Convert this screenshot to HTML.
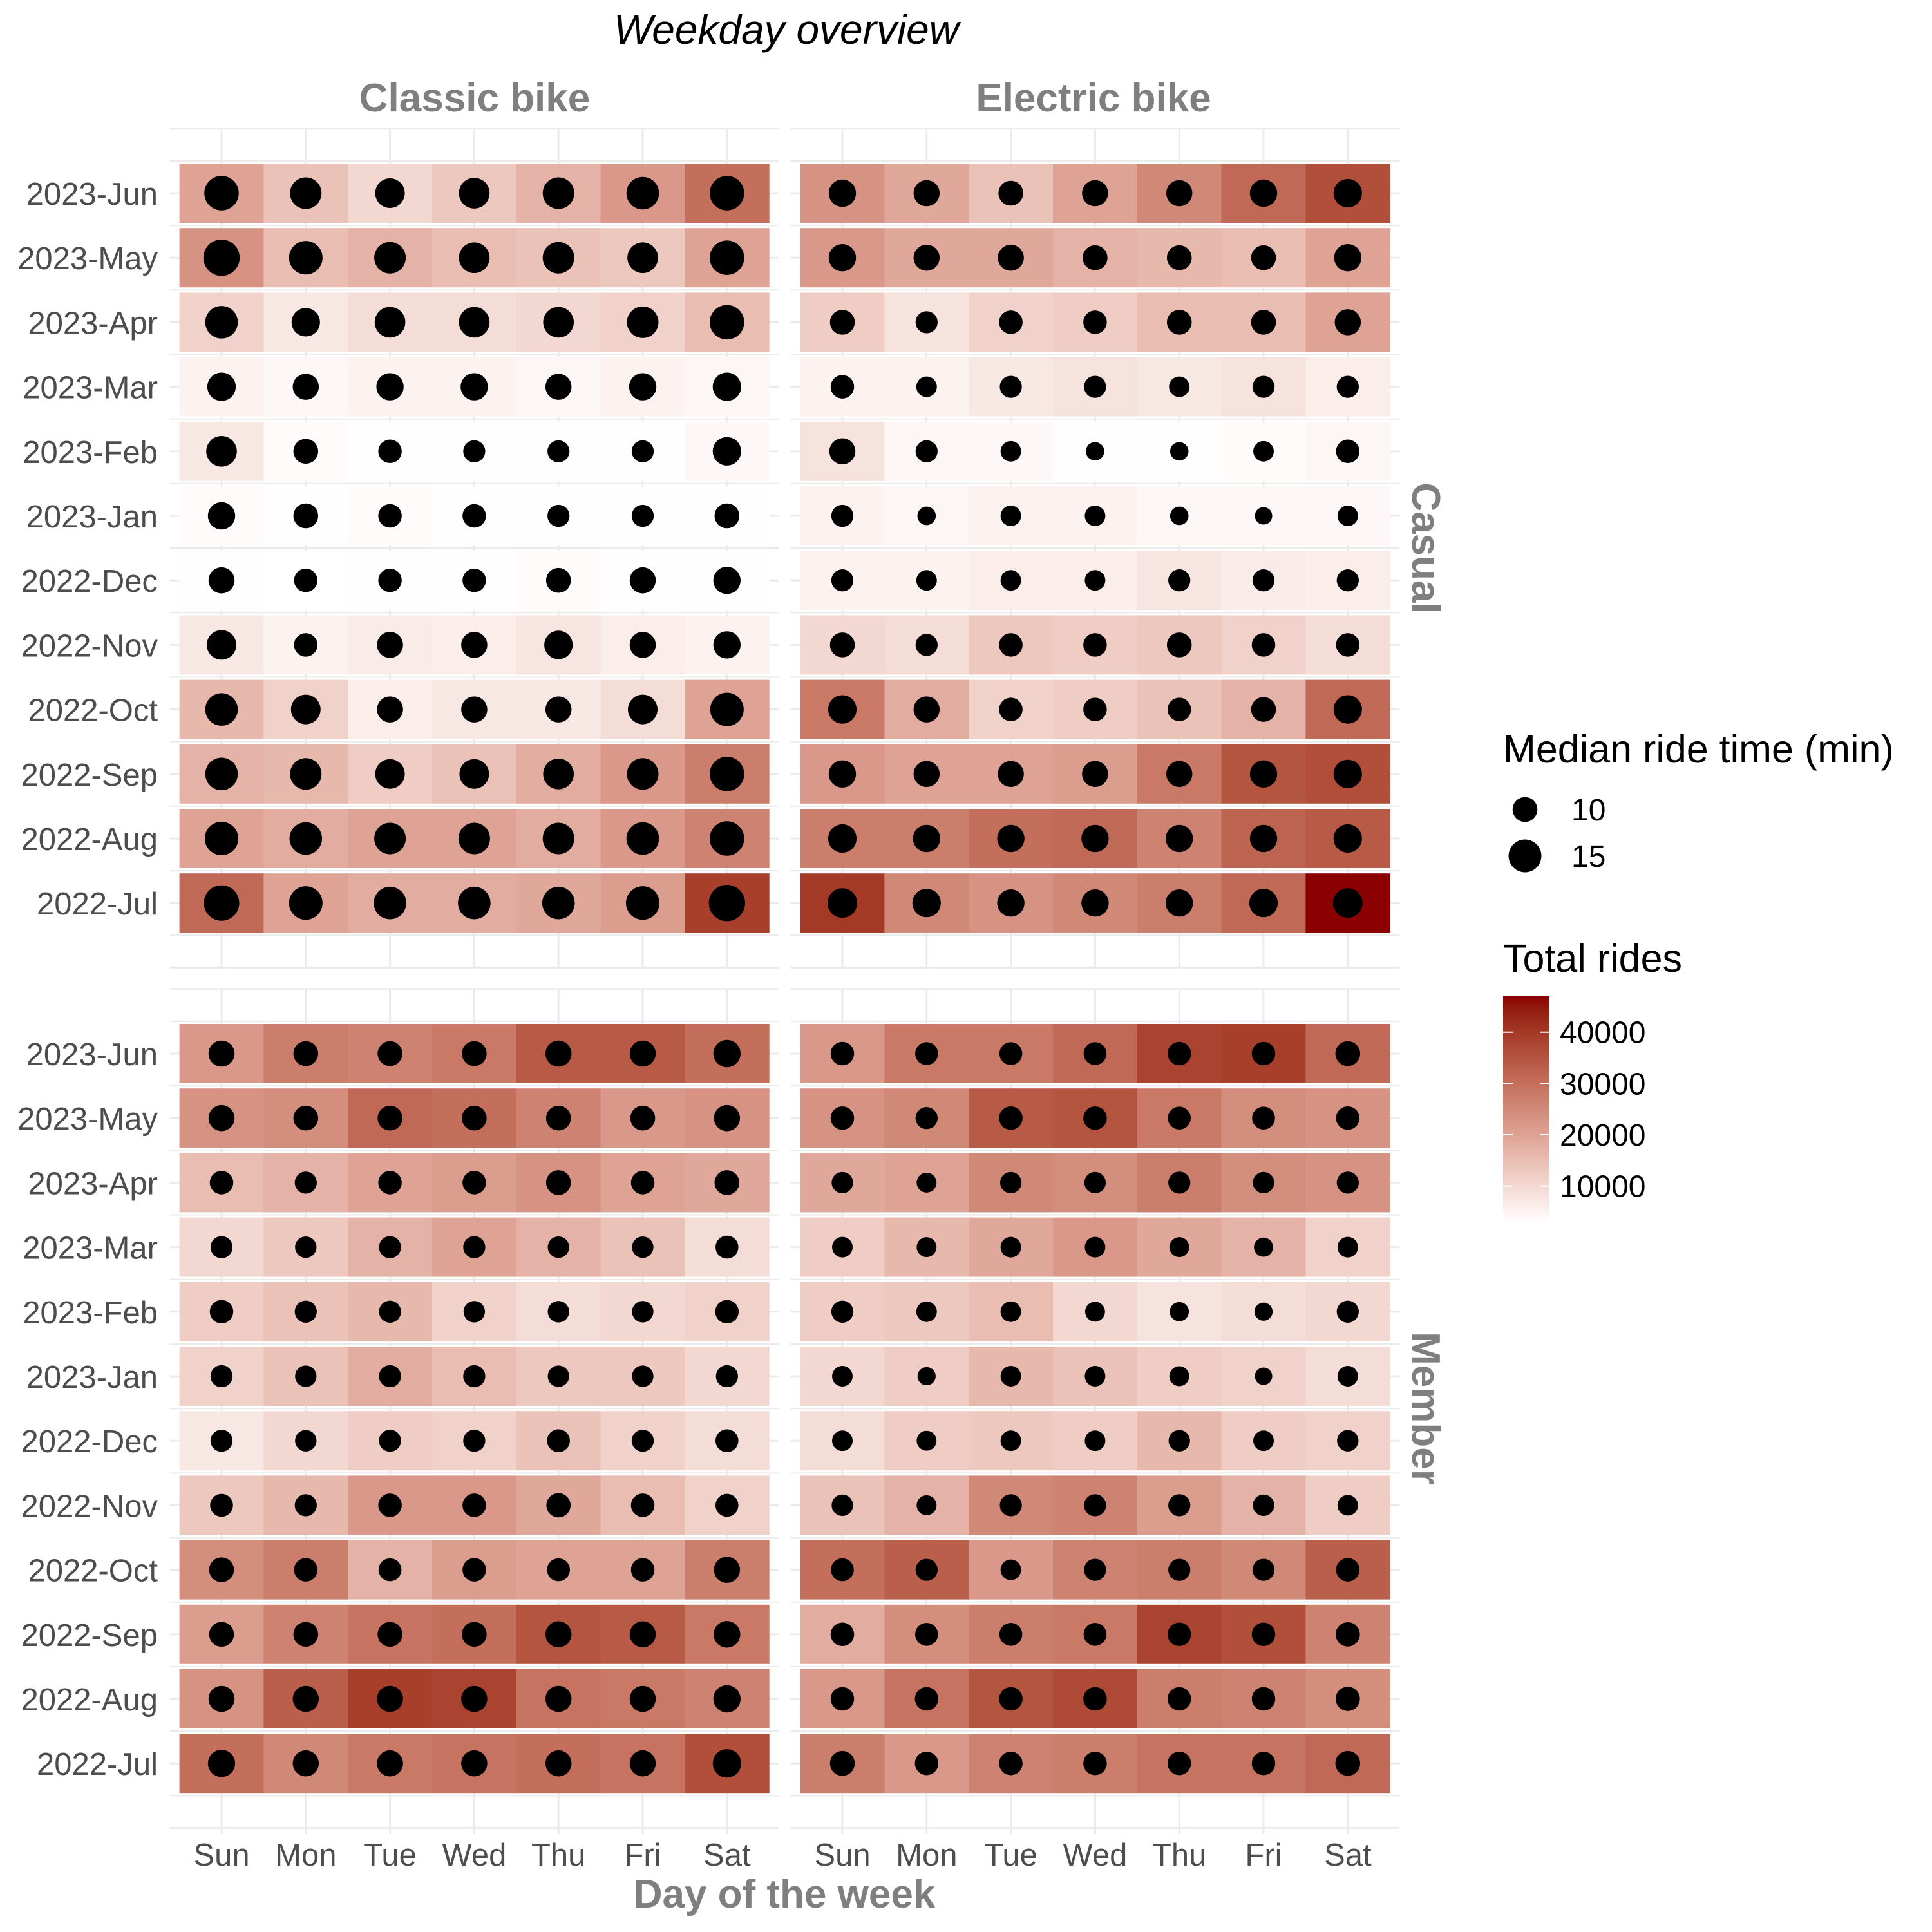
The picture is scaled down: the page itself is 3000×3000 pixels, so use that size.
<!DOCTYPE html>
<html><head><meta charset="utf-8">
<style>
html,body{margin:0;padding:0;background:#fff;}
svg{display:block;font-family:"Liberation Sans",sans-serif;}
</style></head>
<body>
<svg id="chart" width="3000" height="3000" viewBox="0 0 3000 3000" xmlns="http://www.w3.org/2000/svg">
<rect width="3000" height="3000" fill="#fff"/>
<text x="1221" y="68" font-size="64" font-style="italic" text-anchor="middle" fill="#000">Weekday overview</text>
<text x="737" y="173" font-size="62" font-weight="bold" text-anchor="middle" fill="#7f7f7f">Classic bike</text>
<text x="1698" y="173" font-size="62" font-weight="bold" text-anchor="middle" fill="#7f7f7f">Electric bike</text>
<text transform="translate(2193,851) rotate(90)" font-size="62" font-weight="bold" text-anchor="middle" fill="#7f7f7f">Casual</text>
<text transform="translate(2193,2187) rotate(90)" font-size="62" font-weight="bold" text-anchor="middle" fill="#7f7f7f">Member</text>
<text x="1218" y="2962" font-size="62" font-weight="bold" text-anchor="middle" fill="#7f7f7f">Day of the week</text>
<g id="panels"></g>
<g id="legend">
<text x="2334" y="1184" font-size="61" fill="#000">Median ride time (min)</text>
<text x="2334" y="1509" font-size="61" fill="#000">Total rides</text>
</g>
</svg>
<script>
const days = ["Sun","Mon","Tue","Wed","Thu","Fri","Sat"];
const months = ["2023-Jun","2023-May","2023-Apr","2023-Mar","2023-Feb","2023-Jan","2022-Dec","2022-Nov","2022-Oct","2022-Sep","2022-Aug","2022-Jul"];
const sizeBreaks = [10, 15];
const fillBreaks = [10000, 20000, 30000, 40000];

// Casual - Classic bike
const casualClassicRides = [
[20000,14000,10000,13000,17000,22000,30000],
[23000,15000,17000,15000,14000,13000,20000],
[11000,7000,9000,9000,10000,11000,15000],
[5000,4000,5000,5000,4500,5000,4500],
[7000,3500,3000,3000,3000,3000,4000],
[3500,3000,3500,3000,3000,3000,3000],
[3000,2800,3000,3000,3500,3000,3000],
[7000,5000,6500,6000,7500,6000,5000],
[16000,11000,6000,7000,7000,9000,20000],
[17000,16000,12000,14000,18000,22000,27000],
[20000,18000,20000,20000,18000,22000,26000],
[31000,20000,18000,18000,19000,21000,39000]];
const casualClassicTime = [
[16.2,14.1,12.8,13.5,14.1,14.8,16.2],
[17.6,15.5,14.1,13.5,14.1,13.5,16.2],
[14.8,12.1,13.5,13.5,13.5,14.1,16.2],
[12.1,10.7,11.4,11.4,10.7,11.4,12.1],
[13.5,10.0,9.3,8.6,8.6,8.6,12.1],
[11.4,10.0,9.3,9.3,8.6,8.6,10.0],
[10.7,9.3,9.3,9.3,10.0,10.7,11.4],
[12.8,9.3,10.7,10.7,12.1,10.7,11.4],
[14.8,12.8,10.7,10.7,10.7,12.8,15.5],
[14.8,14.1,12.8,12.8,13.5,14.1,16.2],
[15.5,14.8,14.1,14.1,14.1,14.8,16.2],
[16.9,15.5,14.8,14.8,14.8,15.5,17.6]];

// Casual - Electric bike
const casualElectricRides = [
[23000,19000,14000,20000,25000,31000,36000],
[22000,19000,19000,17000,16000,15000,20000],
[12000,8000,11000,12000,15000,15000,20000],
[5000,5000,7000,8000,7000,8000,6000],
[8000,4500,4000,3000,3000,3500,4500],
[5000,4500,5000,5000,4000,4000,4000],
[5000,5000,6000,6000,7500,6500,6000],
[10000,9000,13000,12000,13000,11000,9000],
[28000,18000,11000,12000,14000,17000,31000],
[22000,20000,20000,21000,28000,35000,36000],
[27000,27000,30000,31000,26000,32000,34000],
[40000,25000,23000,25000,27000,31000,47000]];
const casualElectricTime = [
[11.4,10.7,10.0,10.7,10.7,11.4,12.1],
[11.4,10.7,10.7,10.0,10.0,10.0,11.4],
[10.0,8.6,9.3,9.3,10.0,10.0,10.7],
[9.3,7.9,8.6,8.6,7.9,8.6,8.6],
[10.7,8.6,7.9,7.0,7.0,7.9,9.3],
[8.6,7.0,7.9,7.9,7.0,6.6,7.9],
[8.6,7.9,7.9,7.9,8.6,8.6,8.6],
[10.0,8.6,9.3,9.3,10.0,9.3,9.3],
[12.1,10.7,9.3,9.3,9.3,10.0,12.1],
[11.4,10.7,10.7,10.7,10.7,11.4,12.1],
[12.1,11.4,11.4,11.4,11.4,11.4,12.1],
[12.8,12.1,11.4,11.4,11.4,12.1,12.8]];

// Member - Classic bike
const memberClassicRides = [
[22000,27000,26000,28000,34000,34000,30000],
[23000,24000,31000,30000,26000,22000,23000],
[15000,17000,20000,21000,23000,20000,19000],
[10000,13000,17000,20000,17000,14000,9000],
[12000,14000,16000,11000,9000,10000,11000],
[11000,14000,18000,15000,13000,13000,10000],
[7000,10000,12000,11000,14000,11000,9000],
[13000,16000,22000,22000,19000,15000,11000],
[24000,27000,17000,21000,20000,20000,27000],
[21000,26000,29000,30000,35000,34000,28000],
[23000,33000,39000,38000,29000,28000,26000],
[30000,25000,28000,29000,30000,29000,36000]];
const memberClassicTime = [
[10.7,10.0,10.0,10.0,10.7,10.7,11.4],
[10.7,10.0,10.0,10.0,10.0,10.0,10.7],
[9.3,8.6,9.3,9.3,10.0,9.3,10.0],
[8.6,8.3,8.6,8.6,8.3,8.3,9.0],
[9.3,8.6,8.6,8.3,8.3,8.3,9.3],
[8.6,8.3,8.6,8.6,8.3,8.3,8.6],
[8.6,8.3,8.6,8.6,9.0,8.6,9.0],
[9.0,8.6,9.3,9.3,9.7,9.3,9.0],
[10.0,9.3,9.0,9.3,9.0,9.3,10.7],
[10.0,10.0,10.0,10.0,10.7,10.7,11.0],
[10.7,10.7,10.7,10.7,10.7,10.7,11.4],
[11.4,10.7,10.7,10.7,10.7,10.7,12.1]];

// Member - Electric bike
const memberElectricRides = [
[22000,28000,28000,31000,38000,39000,31000],
[23000,25000,34000,35000,28000,24000,23000],
[19000,20000,25000,24000,27000,24000,23000],
[12000,16000,19000,22000,19000,17000,11000],
[12000,13000,15000,10000,8000,9000,10000],
[10000,12000,16000,14000,12000,11000,9000],
[9000,12000,13000,12000,16000,12000,11000],
[14000,17000,25000,26000,21000,17000,12000],
[30000,33000,22000,26000,27000,25000,33000],
[18000,24000,27000,28000,38000,36000,26000],
[22000,29000,35000,37000,27000,26000,24000],
[27000,22000,26000,27000,29000,29000,31000]];
const memberElectricTime = [
[9.3,9.0,9.0,9.0,9.3,9.3,10.0],
[9.3,8.6,9.3,9.3,9.0,9.0,9.3],
[8.3,7.6,8.3,8.3,8.6,8.3,8.6],
[7.9,7.6,7.9,7.9,7.6,7.3,7.9],
[8.6,7.9,7.9,7.6,7.3,6.9,8.6],
[7.9,6.9,7.9,7.9,7.6,6.6,7.9],
[7.9,7.6,7.9,7.9,8.3,7.9,8.3],
[8.3,7.6,8.6,8.6,8.6,8.3,7.9],
[9.0,8.6,7.9,8.6,8.6,8.6,9.3],
[9.3,9.0,9.0,9.0,9.3,9.3,9.7],
[9.3,9.3,9.3,9.3,9.3,9.3,9.7],
[10.0,9.3,9.3,9.3,9.3,9.3,10.0]];

const NS = "http://www.w3.org/2000/svg";
function mk(tag, attrs, parent){const e=document.createElementNS(NS,tag);for(const k in attrs)e.setAttribute(k,attrs[k]);if(parent)parent.appendChild(e);return e;}

const allRides=[casualClassicRides,casualElectricRides,memberClassicRides,memberElectricRides].flat(2);
const rMin=Math.min(...allRides), rMax=Math.max(...allRides);

function srgb2lin(c){c/=255;return c<=0.04045?c/12.92:Math.pow((c+0.055)/1.055,2.4);}
function lin2srgb(c){c=c<=0.0031308?12.92*c:1.055*Math.pow(c,1/2.4)-0.055;return Math.max(0,Math.min(255,Math.round(c*255)));}
function toLab(r,g,b){r=srgb2lin(r);g=srgb2lin(g);b=srgb2lin(b);
 let X=(0.4124*r+0.3576*g+0.1805*b)/0.95047,Y=(0.2126*r+0.7152*g+0.0722*b),Z=(0.0193*r+0.1192*g+0.9505*b)/1.08883;
 const f=t=>t>0.008856?Math.cbrt(t):7.787*t+16/116;X=f(X);Y=f(Y);Z=f(Z);return [116*Y-16,500*(X-Y),200*(Y-Z)];}
function fromLab(L,a,b){let Y=(L+16)/116,X=a/500+Y,Z=Y-b/200;const fi=t=>t*t*t>0.008856?t*t*t:(t-16/116)/7.787;
 X=fi(X)*0.95047;Y=fi(Y);Z=fi(Z)*1.08883;
 const r=3.2406*X-1.5372*Y-0.4986*Z,g=-0.9689*X+1.8758*Y+0.0415*Z,bb=0.0557*X-0.2040*Y+1.0570*Z;
 return "rgb("+lin2srgb(r)+","+lin2srgb(g)+","+lin2srgb(bb)+")";}
const labLo=toLab(255,255,255), labHi=toLab(139,0,0);
function fillScale(v){const t=Math.max(0,Math.min(1,(v-rMin)/(rMax-rMin)));return fromLab(labLo[0]+(labHi[0]-labLo[0])*t,labLo[1]+(labHi[1]-labLo[1])*t,labLo[2]+(labHi[2]-labLo[2])*t);}
function sizeScale(v){const r2=-184+55.6*v;return Math.sqrt(Math.max(20,r2));}

const COLW=130.8, ROWH=100.2, TILEH=92;
const panelX0=[344,1308];
const facetY0=[300,1636];
function xPos(p,i){return panelX0[p]+i*COLW;}
function yPos(f,j){return facetY0[f]+j*ROWH;}

const panelsG=document.getElementById("panels");
const panels=[
 {f:0,p:0,rides:casualClassicRides,time:casualClassicTime,name:"casual-classic"},
 {f:0,p:1,rides:casualElectricRides,time:casualElectricTime,name:"casual-electric"},
 {f:1,p:0,rides:memberClassicRides,time:memberClassicTime,name:"member-classic"},
 {f:1,p:1,rides:memberElectricRides,time:memberElectricTime,name:"member-electric"}];

panels.forEach(P=>{
 const g=mk("g",{},panelsG);
 
 
 const x1=xPos(P.p,0)-COLW*0.6-2, x2=xPos(P.p,6)+COLW*0.6+2;
 const y1=yPos(P.f,0)-ROWH, y2=yPos(P.f,11)+ROWH;
 for(let k=0;k<=26;k++){
  const y=y1+k*ROWH/2;
  const ln=mk("line",{x1:x1,x2:x2,y1:y,y2:y,stroke:"#ebebeb","stroke-width":k%2===0?3:2.2},g);
  
  
 }
 for(let i=0;i<7;i++){
  const x=xPos(P.p,i);
  const ln=mk("line",{x1:x,x2:x,y1:y1,y2:y2+(P.f===1?10:0),stroke:"#ebebeb","stroke-width":3},g);
  
  
 }
 for(let j=0;j<12;j++){
  for(let i=0;i<7;i++){
   const cx=xPos(P.p,i), cy=yPos(P.f,j);
   const t=mk("rect",{x:cx-COLW/2,y:cy-TILEH/2,width:COLW+0.5,height:TILEH,fill:fillScale(P.rides[j][i])},g);
   
   
  }
 }
 for(let j=0;j<12;j++){
  for(let i=0;i<7;i++){
   const c=mk("circle",{cx:xPos(P.p,i),cy:yPos(P.f,j),r:sizeScale(P.time[j][i]),fill:"#000"},g);
   
   
  }
 }
 if(P.p===0){
  for(let j=0;j<12;j++){
   const tx=mk("text",{x:245,y:yPos(P.f,j)+18,"font-size":49,"text-anchor":"end",fill:"#4d4d4d"},g);
   tx.textContent=months[j];
   
   
  }
 }
 if(P.f===1){
  for(let i=0;i<7;i++){
   const tx=mk("text",{x:xPos(P.p,i),y:2897,"font-size":49,"text-anchor":"middle",fill:"#4d4d4d"},g);
   tx.textContent=days[i];
   
   
  }
 }
});

const lg=document.getElementById("legend");
const sizeY=[1257,1329];
sizeBreaks.forEach((v,k)=>{
 const c=mk("circle",{cx:2368,cy:sizeY[k],r:sizeScale(v),fill:"#000"},lg);
 
 
 const t=mk("text",{x:2440,y:sizeY[k]+17,"font-size":48,fill:"#000"},lg);
 t.textContent=String(v);
 
 
});
const barX=2334, barW=72, barTop=1547, barBot=1899;
const defs=mk("defs",{},lg);
const grad=mk("linearGradient",{id:"fillgrad",x1:0,y1:1,x2:0,y2:0},defs);
for(let k=0;k<=20;k++){mk("stop",{offset:k/20,"stop-color":fillScale(rMin+(rMax-rMin)*k/20)},grad);}
const bar=mk("rect",{x:barX,y:barTop,width:barW,height:barBot-barTop,fill:"url(#fillgrad)"},lg);


function barY(v){return barBot-(v-rMin)/(rMax-rMin)*(barBot-barTop);}
fillBreaks.forEach(v=>{
 const y=barY(v);
 mk("line",{x1:barX,x2:barX+15,y1:y,y2:y,stroke:"#fff","stroke-width":2},lg);
 mk("line",{x1:barX+barW-15,x2:barX+barW,y1:y,y2:y,stroke:"#fff","stroke-width":2},lg);
 const t=mk("text",{x:2422,y:y+17,"font-size":48,fill:"#000"},lg);
 t.textContent=String(v);
 
 
});
</script>
</body></html>
